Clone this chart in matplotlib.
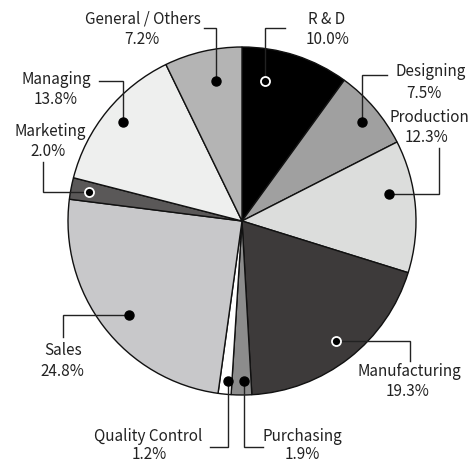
import matplotlib
matplotlib.use("Agg")
from matplotlib import pyplot as plt

plt.rcParams['font.family'] = ['Noto Sans CJK JP', 'DejaVu Sans']

# donnees
labels = ["R & D", "Designing", "Production", "Manufacturing", "Purchasing",
          "Quality Control", "Sales", "Marketing", "Managing", "General / Others"]
shares = [10.0, 7.5, 12.3, 19.3, 1.9, 1.2, 24.8, 2.0, 13.8, 7.2]
colors = ["#000000", "#a0a0a0", "#dcdddc", "#3d3a3a", "#8c8c8c",
          "#ffffff", "#c8c8ca", "#5a5858", "#eeefee", "#b4b4b4"]

# mise en page (pixels de l'image): nom (x,y,ha), pourcentage (x,y), chemin du trait
layout = {
    "R & D":            ((327, 19, 'center'), (328, 39), [(285, 29), (265, 29), (265, 82)]),
    "Designing":        ((431, 72, 'center'), (424, 93), [(387, 76), (362, 76), (362, 123)]),
    "Production":       ((469, 117, 'right'), (427, 138), [(439, 149), (439, 195), (389, 195)]),
    "Manufacturing":    ((409, 372, 'center'), (408, 392), [(410, 362), (410, 342), (336, 342)]),
    "Purchasing":       ((302, 437, 'center'), (302, 455), [(263, 448), (244, 448), (244, 382)]),
    "Quality Control":  ((148, 437, 'center'), (149, 455), [(210, 448), (228, 448), (228, 382)]),
    "Sales":            ((63, 351, 'center'), (62, 372), [(63, 338), (63, 316), (129, 316)]),
    "Marketing":        ((50, 132, 'center'), (48, 152), [(43, 163), (43, 193), (89, 193)]),
    "Managing":         ((56, 79, 'center'), (56, 99), [(99, 82), (123, 82), (123, 123)]),
    "General / Others": ((143, 19, 'center'), (142, 39), [(204, 29), (216, 29), (216, 82)]),
}
hollow = {"R & D", "Manufacturing", "Marketing"}

W, H = 471, 464
fig = plt.figure(figsize=(W / 100, H / 100), dpi=100)
ax = fig.add_axes([0, 0, 1, 1])

# axe y inverse -> startangle=-90 + sens trigo = sens horaire depuis le haut
ax.pie(shares, colors=colors, startangle=-90, counterclock=True,
       center=(242, 222), radius=174,
       wedgeprops=dict(edgecolor="#111111", linewidth=1.0))
ax.set_xlim(0, W)
ax.set_ylim(H, 0)
ax.set_aspect('equal')
ax.axis('off')

for lab, val in zip(labels, shares):
    (nx, ny, nha), (px, py), path = layout[lab]
    ax.text(nx, ny, lab, ha=nha, va='center', fontsize=11, color="#222222")
    ax.text(px, py, "%.1f%%" % val, ha='center', va='center', fontsize=11, color="#222222")
    xs = [p[0] for p in path]
    ys = [p[1] for p in path]
    ax.plot(xs, ys, color="#222222", linewidth=1.0, solid_joinstyle='miter')
    if lab in hollow:
        ax.plot(xs[-1], ys[-1], 'o', markersize=6.5, markerfacecolor="#000000",
                markeredgecolor="white", markeredgewidth=1.3)
    else:
        ax.plot(xs[-1], ys[-1], 'o', markersize=6.5, color="#000000")

fig.savefig("out.png", dpi=100)
